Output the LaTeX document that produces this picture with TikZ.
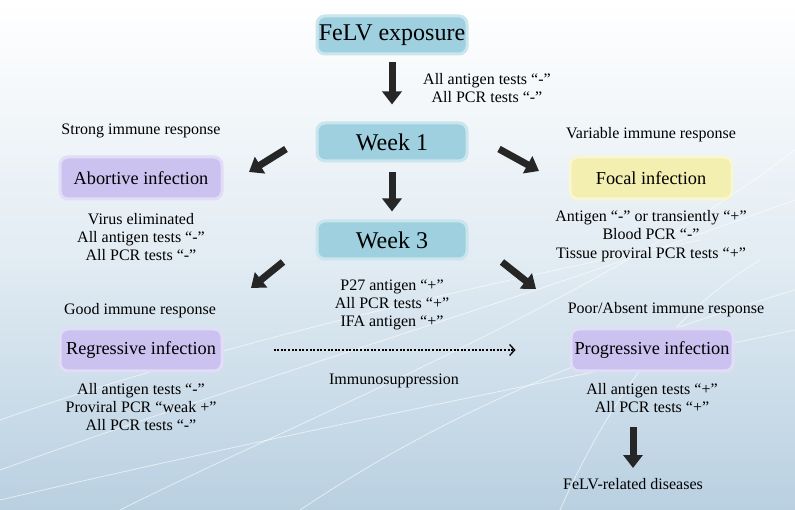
\documentclass[tikz,border=0pt]{standalone}
\usepackage{fontspec}
\setmainfont{Liberation Serif}
\usetikzlibrary{arrows.meta}
\definecolor{boxblue}{HTML}{9ED0DF}
\definecolor{boxlav}{HTML}{CBC2F0}
\definecolor{boxyel}{HTML}{F3EFB0}
\definecolor{bgmid}{HTML}{E2ECF3}
\definecolor{bgbot}{HTML}{B9D0E1}
\begin{document}
\begin{tikzpicture}[x=1pt,y=-1pt,
  softbox/.style={rounded corners=8pt, inner sep=0pt, minimum width=162pt, minimum height=42pt,
    font=\fontsize{18.3}{21}\selectfont},
  bigbox/.style={softbox, fill=boxblue, draw=boxblue!55, line width=3pt, minimum width=150pt,
    minimum height=38pt, font=\fontsize{24}{28}\selectfont},
  lavbox/.style={softbox, fill=boxlav, draw=boxlav!55, line width=3pt},
  yelbox/.style={softbox, fill=boxyel, draw=boxyel!55, line width=3pt},
  lbl/.style={font=\fontsize{16}{18.3}\selectfont, align=center, inner sep=0pt},
  bigarrow/.style={line width=7pt, black!85, -{Triangle[width=19pt,length=13pt]}},
  dotarrow/.style={line width=1.3pt, dash pattern=on 2pt off 1.6pt, -{Straight Barb[length=5pt,width=11pt]}},
  deco/.style={white, line width=0.8pt, opacity=0.6}]
% background
\shade[top color=white, bottom color=bgbot, middle color=bgmid] (0,0) rectangle (795,510);
\useasboundingbox (0,0) rectangle (795,510);
% faint decorative curves
\draw[deco] (0,470) .. controls (250,380) and (520,300) .. (795,200);
\draw[deco] (0,500) .. controls (300,430) and (560,380) .. (795,330);
\draw[deco] (120,510) .. controls (300,420) and (600,300) .. (795,150);
\draw[deco] (0,420) .. controls (200,350) and (450,290) .. (700,240);
\draw[deco] (560,510) .. controls (600,420) and (660,320) .. (760,260);
\draw[deco] (300,510) .. controls (420,430) and (560,360) .. (795,290);
% boxes
\node[bigbox] (exp) at (392,35) {FeLV exposure};
\node[bigbox] (w1) at (392,142) {Week 1};
\node[bigbox] (w3) at (392,240) {Week 3};
\node[lavbox] (abo) at (141,178) {Abortive infection};
\node[yelbox] (foc) at (651,178) {Focal infection};
\node[lavbox] (reg) at (141,350) {Regressive infection};
\node[lavbox] (prog) at (652,350) {Progressive infection};
% labels
\node[lbl, anchor=west] (t0) at (423,88) {All antigen tests “-”\\All PCR tests “-”};
\node[lbl] (strong) at (141,131) {Strong immune response};
\node[lbl] (var) at (651,135) {Variable immune response};
\node[lbl] (aboT) at (141,237) {Virus eliminated\\All antigen tests “-”\\All PCR tests “-”};
\node[lbl] (focT) at (651,236) {Antigen “-” or transiently “+”\\Blood PCR “-”\\Tissue proviral PCR tests “+”};
\node[lbl] (w3T) at (392,305) {P27 antigen “+”\\All PCR tests “+”\\IFA antigen “+”};
\node[lbl] (good) at (140,311) {Good immune response};
\node[lbl] (poor) at (666,310) {Poor/Absent immune response};
\node[lbl] (regT) at (141,407) {All antigen tests “-”\\Proviral PCR “weak +”\\All PCR tests “-”};
\node[lbl] (progT) at (652,398) {All antigen tests “+”\\All PCR tests “+”};
\node[lbl] (imm) at (394,381) {Immunosuppression};
\node[lbl] (dis) at (633,484) {FeLV-related diseases};
% arrow end points
\coordinate (a1s) at (286,149); \coordinate (a1e) at (249,172);
\coordinate (a2s) at (499,149); \coordinate (a2e) at (539,171);
\coordinate (a3s) at (283,262); \coordinate (a3e) at (251,288);
\coordinate (a4s) at (502,262); \coordinate (a4e) at (536,289);
\coordinate (a5s) at (633,427); \coordinate (a5e) at (633,468);
% arrows
\draw[bigarrow, shorten <=7pt, shorten >=17pt] (exp.south) -- (w1.north);
\draw[bigarrow, shorten <=10pt, shorten >=8pt] (w1.south) -- (w3.north);
\draw[bigarrow] (a1s) -- (a1e);
\draw[bigarrow] (a2s) -- (a2e);
\draw[bigarrow] (a3s) -- (a3e);
\draw[bigarrow] (a4s) -- (a4e);
\draw[bigarrow] (a5s) -- (a5e);
\draw[dotarrow, shorten <=50pt, shorten >=54pt] (reg.east) -- (prog.west);
\end{tikzpicture}
\end{document}
